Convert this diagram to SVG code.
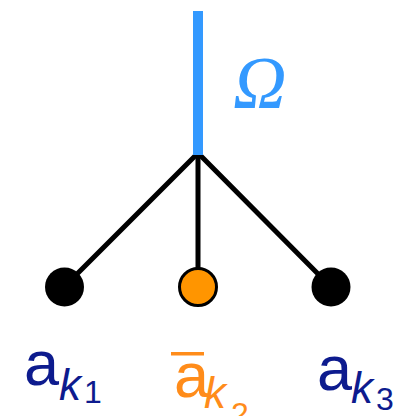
<svg xmlns="http://www.w3.org/2000/svg" width="411" height="416" viewBox="0 0 411 416">
<style>
.edge{stroke:#000;stroke-width:5;stroke-linecap:round}
.lbl{font-family:"Liberation Sans",Arial,sans-serif}
.sub{font-family:"Liberation Sans",Arial,sans-serif;font-style:italic}
.navy{fill:#0d1b8e}
.org{fill:#ff8c1a}
</style>
<rect width="411" height="416" fill="#fff"/>
<g id="connectors">
<line class="edge" x1="198" y1="153" x2="64" y2="287"/>
<line class="edge" x1="198" y1="153" x2="198" y2="287"/>
<line class="edge" x1="198" y1="153" x2="331" y2="287"/>
<line x1="198" y1="11" x2="198" y2="155" stroke="#3399ff" stroke-width="10"/>
</g>
<g id="omega">
<text x="233" y="108" font-family="'Liberation Serif','Times New Roman',serif" font-style="italic" font-size="74" fill="#3399ff">Ω</text>
</g>
<g id="node1">
<circle cx="64.5" cy="287" r="19.5" fill="#000"/>
<text class="lbl navy" x="24" y="385" font-size="63">a</text>
<text class="sub navy" x="59" y="400" font-size="44">k</text>
<text class="lbl navy" x="84" y="403" font-size="32">1</text>
</g>
<g id="node2">
<circle cx="198" cy="287" r="18.5" fill="#ff9500" stroke="#000" stroke-width="3"/>
<rect x="171" y="352" width="33" height="3.5" fill="#ff8c1a"/>
<text class="lbl org" x="174" y="397" font-size="63">a</text>
<text class="sub org" x="204" y="408" font-size="44">k</text>
<text class="lbl org" x="231" y="425" font-size="32">2</text>
</g>
<g id="node3">
<circle cx="331" cy="287" r="19.5" fill="#000"/>
<text class="lbl navy" x="317" y="390" font-size="63">a</text>
<text class="sub navy" x="351" y="403" font-size="44">k</text>
<text class="lbl navy" x="376" y="410" font-size="32">3</text>
</g>
</svg>
